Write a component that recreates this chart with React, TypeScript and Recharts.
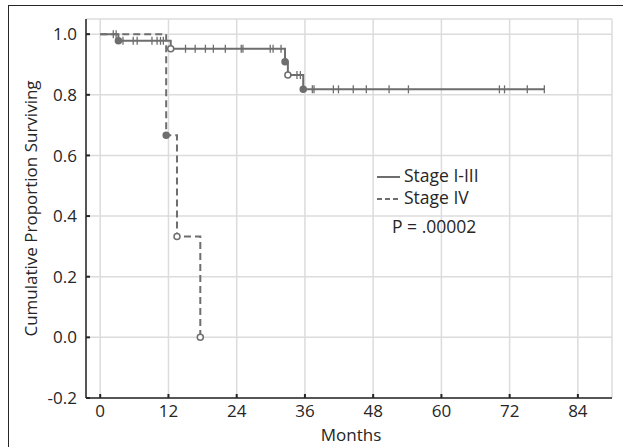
import { LineChart, Line, XAxis, YAxis, CartesianGrid } from 'recharts'

const monthTicks = [0, 12, 24, 36, 48, 60, 72, 84]
const survivalTicks = [-0.2, 0, 0.2, 0.4, 0.6, 0.8, 1.0]

// Stage I-III: deaths (step drops) and censored follow-up times
const stageEarlyEventMonths = [3.2, 12.4, 32.5, 33.0, 35.7]
const stageEarlySurvival = [0.978, 0.952, 0.909, 0.865, 0.818]
const stageEarlyOpenMarker = [false, true, false, true, false]
const stageEarlyCensored = [
  2.3, 2.8, 4.0, 5.8, 6.5, 9.1, 10.0, 10.6, 11.1, 15.0, 16.7, 18.5, 19.9, 22.0, 24.8, 25.1,
  29.9, 30.4, 31.8, 34.6, 35.2, 37.3, 37.6, 41.0, 41.9, 44.5, 46.8, 50.8, 54.2, 70.2, 71.1,
  75.1, 78.1,
]

// Stage IV
const stageLateEventMonths = [11.6, 13.5, 17.6]
const stageLateSurvival = [0.667, 0.333, 0.0]
const stageLateOpenMarker = [false, true, true]
const stageLateCensored: number[] = []

const gray = '#6e6e6e'
const ink = '#262626'
const font = '"Open Sans", sans-serif'

type Pt = { month: number; surv: number; mark: 'none' | 'filled' | 'open' | 'censor' }

function buildCurve(evMonths: number[], evSurv: number[], evOpen: boolean[], censored: number[]): Pt[] {
  const pts: Pt[] = [{ month: 0, surv: 1, mark: 'none' }]
  evMonths.forEach((m, i) => pts.push({ month: m, surv: evSurv[i], mark: evOpen[i] ? 'open' : 'filled' }))
  censored.forEach((m) => {
    let s = 1
    evMonths.forEach((em, i) => {
      if (em <= m) s = evSurv[i]
    })
    pts.push({ month: m, surv: s, mark: 'censor' })
  })
  return pts.sort((a, b) => a.month - b.month)
}

const stageEarlyData = buildCurve(stageEarlyEventMonths, stageEarlySurvival, stageEarlyOpenMarker, stageEarlyCensored)
const stageLateData = buildCurve(stageLateEventMonths, stageLateSurvival, stageLateOpenMarker, stageLateCensored)

const renderMark = (props: any) => {
  const { cx, cy, payload, index } = props
  const k = `m-${index}-${payload.month}`
  if (payload.mark === 'censor') {
    return <line key={k} x1={cx} x2={cx} y1={cy - 4} y2={cy + 4} stroke={gray} strokeWidth={1.3} />
  }
  if (payload.mark === 'filled' || payload.mark === 'open') {
    return (
      <circle key={k} cx={cx} cy={cy} r={3} fill={payload.mark === 'open' ? '#fff' : gray} stroke={gray} strokeWidth={1.5} />
    )
  }
  return <g key={k} />
}

const XTick = (props: any) => (
  <text x={props.x} y={props.y} dy="0.72em" textAnchor="middle" fill={ink} fontSize={17} fontFamily={font}>
    {props.payload.value}
  </text>
)

const YTick = (props: any) => (
  <text x={props.x} y={props.y} dy="0.36em" textAnchor="end" fill={ink} fontSize={17} fontFamily={font}>
    {Number(props.payload.value).toFixed(1)}
  </text>
)

const YLabel = (props: any) => {
  const vb = props.viewBox
  const cx = 31
  const cy = (vb?.y ?? 19) + (vb?.height ?? 379) / 2
  return (
    <text
      x={cx}
      y={cy}
      transform={`rotate(-90 ${cx} ${cy})`}
      textAnchor="middle"
      dy="0.36em"
      fill={ink}
      fontSize={17}
      fontFamily={font}
    >
      Cumulative Proportion Surviving
    </text>
  )
}

const XLabel = (props: any) => {
  const vb = props.viewBox
  const cx = (vb?.x ?? 86) + (vb?.width ?? 526) / 2
  return (
    <text x={cx + 2} y={441} textAnchor="middle" fill={ink} fontSize={17} fontFamily={font}>
      Months
    </text>
  )
}

export default function App() {
  return (
    <div style={{ position: 'absolute', left: 0, top: 0, width: 623, height: 447, background: '#fff', overflow: 'hidden' }}>
      <div
        style={{
          position: 'absolute',
          left: 8,
          top: 5,
          width: 640,
          height: 500,
          borderLeft: `1.5px solid ${ink}`,
          borderTop: `1.5px solid ${ink}`,
        }}
      />
      <LineChart width={623} height={447} margin={{ top: 19, right: 11, left: 0, bottom: 0 }}>
        <CartesianGrid stroke="#dcdcdc" strokeWidth={1.5} />
        <XAxis
          dataKey="month"
          type="number"
          domain={[-2.5, 90]}
          ticks={monthTicks}
          allowDataOverflow
          height={49}
          axisLine={{ stroke: ink, strokeWidth: 1.5 }}
          tickLine={{ stroke: ink, strokeWidth: 2 }}
          tickSize={-4}
          tickMargin={11}
          tick={<XTick />}
          label={<XLabel />}
        />
        <XAxis
          xAxisId="top"
          orientation="top"
          dataKey="month"
          type="number"
          domain={[-2.5, 90]}
          ticks={monthTicks}
          allowDataOverflow
          height={0}
          axisLine={{ stroke: ink, strokeWidth: 1.5 }}
          tickLine={{ stroke: ink, strokeWidth: 2 }}
          tickSize={-4}
          tick={false}
        />
        <YAxis
          type="number"
          domain={[-0.2, 1.05]}
          ticks={survivalTicks}
          allowDataOverflow
          width={86}
          axisLine={{ stroke: ink, strokeWidth: 1.5 }}
          tickLine={{ stroke: ink, strokeWidth: 2 }}
          tickSize={-4}
          tickMargin={13}
          tick={<YTick />}
          label={<YLabel />}
        />
        <YAxis
          yAxisId="right"
          orientation="right"
          type="number"
          domain={[-0.2, 1.05]}
          ticks={survivalTicks}
          allowDataOverflow
          width={0}
          axisLine={{ stroke: ink, strokeWidth: 1.5 }}
          tickLine={{ stroke: ink, strokeWidth: 2 }}
          tickSize={-4}
          tick={false}
        />
        <Line
          data={stageLateData}
          dataKey="surv"
          type="stepAfter"
          stroke={gray}
          strokeWidth={2}
          strokeDasharray="7 4"
          dot={renderMark}
          activeDot={false}
          isAnimationActive={false}
        />
        <Line
          data={stageEarlyData}
          dataKey="surv"
          type="stepAfter"
          stroke={gray}
          strokeWidth={2}
          dot={renderMark}
          activeDot={false}
          isAnimationActive={false}
        />
      </LineChart>
      <svg
        width={623}
        height={447}
        style={{ position: 'absolute', left: 0, top: 0, pointerEvents: 'none' }}
        fontFamily={font}
        fontSize={17.5}
        fill={ink}
      >
        <line x1={377} x2={400} y1={177} y2={177} stroke={gray} strokeWidth={2} />
        <text x={404} y={182}>Stage I-III</text>
        <line x1={377} x2={400} y1={199} y2={199} stroke={gray} strokeWidth={2} strokeDasharray="5 3" />
        <text x={404} y={204}>Stage IV</text>
        <text x={392} y={233}>P = .00002</text>
      </svg>
    </div>
  )
}
